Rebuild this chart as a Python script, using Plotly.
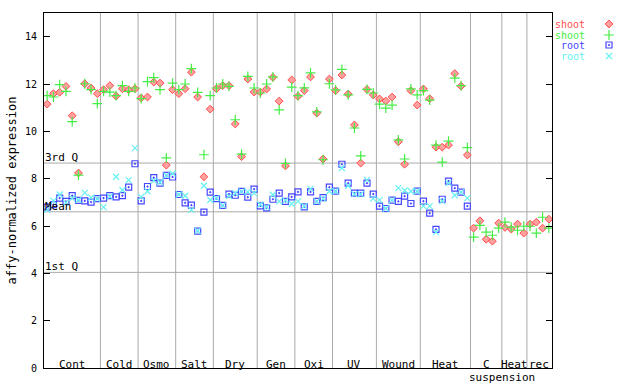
import numpy as np
import plotly.graph_objects as go

# ---- data ----
groups = ["Cont", "Cold", "Osmo", "Salt", "Dry", "Gen", "Oxi", "UV", "Wound",
          "Heat", "C", "Heat", "rec"]
group_sizes = [9, 6, 6, 6, 7, 6, 6, 7, 7, 8, 5, 4, 4]

shoot_a = [11.15, 11.59, 11.65, 11.90, 10.66, 8.24, 12.01, 11.83, 11.59,
           11.76, 11.93, 11.49, 11.80, 11.76, 11.80,
           11.41, 11.45, 12.08, 12.04, 8.57, 11.76,
           11.59, 11.80, 12.50, 11.45, 8.08, 10.94,
           11.80, 11.93, 11.93, 10.31, 8.93, 12.21, 11.66,
           11.66, 11.79, 12.28, 11.28, 8.54, 12.17,
           11.48, 11.72, 12.30, 10.77, 8.83, 12.21,
           11.72, 12.38, 11.58, 10.27, 8.66, 11.77, 11.54,
           11.37, 11.28, 11.45, 9.56, 8.61, 11.72, 11.11,
           11.79, 11.38, 9.33, 9.33, 9.42, 12.44, 11.91, 9.00,
           5.91, 6.22, 5.44, 5.36, 6.12,
           5.94, 5.87, 6.08, 5.70,
           6.08, 6.16, 5.91, 6.29]

shoot_b = [11.51, 11.45, 11.97, 11.69, 10.41, 8.15, 12.01, 11.76, 11.17,
           11.69, 11.66, 11.51, 11.93, 11.69, 11.83,
           11.38, 12.10, 12.27, 11.76, 8.88, 12.04,
           11.76, 12.00, 12.65, 11.65, 9.01, 11.51,
           11.83, 12.00, 11.90, 10.49, 9.04, 12.32, 11.83,
           11.62, 12.00, 12.30, 10.91, 8.64, 11.87,
           11.51, 11.84, 12.47, 10.82, 8.80, 12.01,
           11.75, 12.62, 11.54, 10.14, 8.96, 11.77, 11.62,
           11.15, 10.98, 11.11, 9.64, 8.83, 11.79, 11.54,
           11.72, 11.32, 9.42, 8.70, 9.59, 12.25, 11.93, 9.31,
           5.53, 6.03, 5.74, 5.61, 5.91,
           6.16, 5.95, 5.82, 5.99,
           5.99, 5.70, 6.37, 5.91]

root_a = [6.80, 6.90, 7.18, 7.04, 7.28, 7.08, 7.06, 7.01, 7.16,
          7.18, 7.28, 7.23, 7.28, 7.64, 8.63,
          7.06, 7.67, 8.04, 7.81, 8.14, 8.07,
          7.33, 6.98, 6.88, 5.78, 6.59, 7.43,
          7.16, 6.87, 7.35, 7.30, 7.46, 7.22, 7.56,
          6.85, 6.77, 7.13, 7.39, 7.04, 7.23,
          7.44, 6.81, 7.44, 7.04, 7.20, 7.64,
          7.47, 8.61, 7.81, 7.39, 7.39, 7.81, 7.35,
          6.84, 6.74, 7.09, 7.04, 7.26, 6.95, 7.47,
          7.05, 6.54, 5.86, 7.13, 7.90, 7.60, 7.43, 6.84]

root_b = [6.68, 7.06, 7.33, 6.99, 7.18, 7.10, 7.40, 7.20, 7.15,
          6.80, 7.25, 8.08, 7.52, 7.94, 9.29,
          7.23, 7.47, 7.92, 7.85, 8.14, 8.22,
          7.33, 7.28, 6.68, 5.80, 7.70, 7.10,
          7.18, 6.87, 7.26, 7.39, 7.46, 7.44, 7.39,
          6.91, 6.80, 7.32, 7.04, 7.08, 6.94,
          7.04, 6.84, 7.57, 7.04, 7.16, 7.47,
          7.47, 8.45, 7.70, 7.35, 7.35, 7.95, 7.16,
          7.09, 6.74, 7.09, 7.60, 7.50, 7.47, 7.47,
          6.84, 6.84, 5.74, 7.05, 7.81, 7.30, 7.43, 7.18]

q3_value = 8.66
mean_value = 6.60
q1_value = 4.04

y_ticks = [0, 2, 4, 6, 8, 10, 12, 14]

# ---- styles ----
RED = "#ff4d4d"
GREEN = "#44ee44"
BLUE = "#4646ff"
CYAN = "#66f2f2"
GRID = "#aaaaaa"
FONT = "DejaVu Sans Mono"

n_total = sum(group_sizes)
bounds = np.concatenate([[0], np.cumsum(group_sizes)])
x_all = np.arange(n_total) + 0.5

fig = go.Figure()

series = [
    ("shoot", shoot_a, dict(symbol="diamond", size=6, color="#ffa0a0",
                            line=dict(color=RED, width=1))),
    ("shoot", shoot_b, dict(symbol="cross-thin-open", size=7, color=GREEN,
                            line=dict(color=GREEN, width=1.2))),
    ("root", root_a, dict(symbol="square-open-dot", size=6, color=BLUE,
                          line=dict(color=BLUE, width=1.2))),
    ("root", root_b, dict(symbol="x-thin-open", size=6, color=CYAN,
                          line=dict(color=CYAN, width=1.2))),
]
for name, vals, mk in series:
    fig.add_trace(go.Scatter(x=x_all[:len(vals)], y=vals, mode="markers",
                             name=name, marker=mk, showlegend=False,
                             hoverinfo="skip"))

# legend (text left of symbol), drawn on a hidden overlay axis in the right margin
leg_colors = [RED, GREEN, BLUE, CYAN]
leg_rows = [11, 22, 32, 43]
for (name, vals, mk), col, row in zip(series, leg_colors, leg_rows):
    fig.add_trace(go.Scatter(x=[57], y=[row], mode="markers", marker=mk,
                             xaxis="x2", yaxis="y2", showlegend=False,
                             hoverinfo="skip"))
    fig.add_annotation(x=34, y=row, xref="x2", yref="y2", text=name,
                       showarrow=False, xanchor="right", yanchor="middle",
                       borderpad=0,
                       font=dict(family=FONT, size=10, color=col))

shapes = []
for b in bounds[1:-1]:
    shapes.append(dict(type="line", x0=b, x1=b, y0=0, y1=1, xref="x", yref="paper",
                       line=dict(color=GRID, width=1), layer="below"))
for q in (q3_value, mean_value, q1_value):
    shapes.append(dict(type="line", x0=0, x1=n_total, y0=q, y1=q, xref="x", yref="y",
                       line=dict(color=GRID, width=1), layer="below"))

annotations = []
for lbl, q in (("3rd Q", q3_value), ("Mean", mean_value), ("1st Q", q1_value)):
    annotations.append(dict(x=0, y=q, xref="x", yref="y", text=lbl, showarrow=False,
                            xanchor="left", yanchor="bottom", xshift=-1, yshift=-3,
                            font=dict(family=FONT, size=11, color="black")))
for i, g in enumerate(groups):
    cx = (bounds[i] + bounds[i + 1]) / 2
    annotations.append(dict(x=cx, y=0, xref="x", yref="y", text=g, showarrow=False,
                            xanchor="center", yanchor="bottom", yshift=-5,
                            font=dict(family=FONT, size=11, color="black")))
c_idx = groups.index("C")
annotations.append(dict(x=bounds[c_idx + 1], y=0, xref="x", yref="y", text="suspension",
                        showarrow=False, xanchor="center", yanchor="top", yshift=-2,
                        borderpad=0,
                        font=dict(family=FONT, size=11, color="black")))

for a in annotations:
    fig.add_annotation(**a)

dom_right = 508 / 596
fig.update_layout(
    width=640, height=384,
    margin=dict(l=44, r=0, t=13, b=16, autoexpand=False),
    paper_bgcolor="white", plot_bgcolor="white",
    shapes=shapes,
    showlegend=False,
    xaxis=dict(range=[0, n_total], domain=[0, dom_right], showticklabels=False,
               ticks="", showgrid=False, zeroline=False, showline=True,
               linecolor="black", linewidth=1, mirror=True, automargin=False),
    yaxis=dict(range=[0, 15], tickvals=y_ticks, ticks="inside", ticklen=6,
               tickcolor="black", showline=True, linecolor="black", linewidth=1,
               mirror="ticks", showgrid=False, zeroline=False, automargin=False,
               ticklabelstandoff=4,
               tickfont=dict(family=FONT, size=10, color="black"),
               title=dict(text="affy-normalized expression", standoff=5,
                          font=dict(family=FONT, size=12, color="black"))),
    xaxis2=dict(domain=[dom_right, 1], range=[0, 88], visible=False, anchor="y2",
                automargin=False),
    yaxis2=dict(domain=[0, 1], range=[355, 0], visible=False, anchor="x2",
                automargin=False),
)

fig.write_html("out.html",
               config={"displayModeBar": False},
               post_script="document.body.style.margin='0';"
                           "document.body.style.overflow='hidden';")
